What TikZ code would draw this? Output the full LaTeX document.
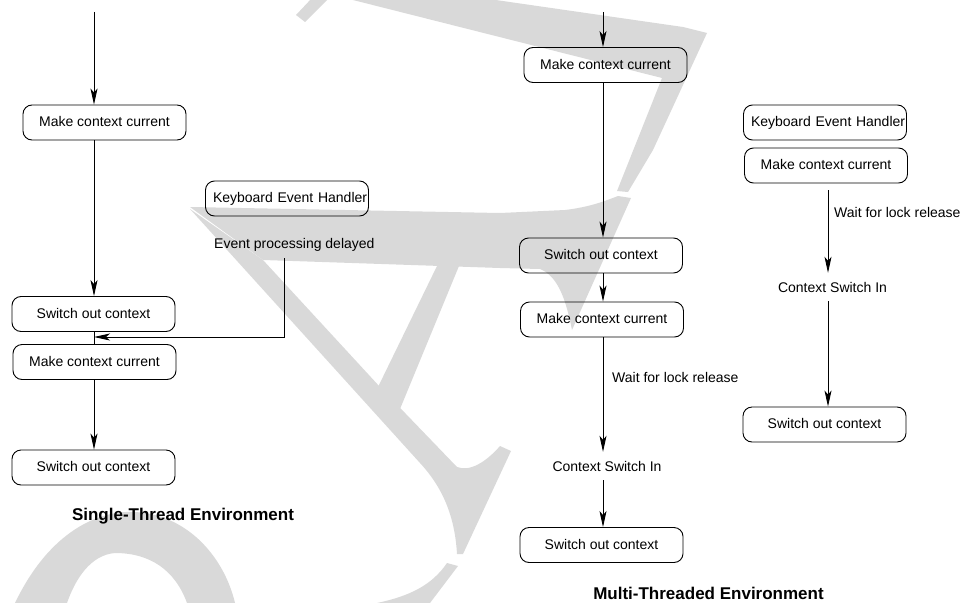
\documentclass[tikz,border=0pt]{standalone}
\usepackage{fontspec}
\setmainfont{Liberation Sans}
\usetikzlibrary{arrows.meta}
\definecolor{wm}{RGB}{217,217,217}
\tikzset{
  box/.style={draw, line width=0.9pt, rounded corners=9pt, minimum width=163pt, minimum height=35pt,
    inner sep=0pt, font=\fontsize{14}{16}\selectfont, text height=10pt, text depth=2pt},
  keh/.style={box, inner xsep=7.5pt, text width=148pt, align=left},
  lbl/.style={inner xsep=2pt, inner ysep=9pt, font=\fontsize{14}{16}\selectfont, text height=10pt, text depth=0pt},
  txt/.style={inner sep=0pt, font=\fontsize{14}{16}\selectfont},
  ttl/.style={inner sep=0pt, font=\bfseries\fontsize{17}{20}\selectfont},
  arr/.style={line width=0.9pt, -{Stealth[length=16pt,width=7pt,inset=4pt]}},
  ln/.style={line width=0.9pt},
}
\begin{document}
\begin{tikzpicture}[x=1pt,y=-1pt]
\useasboundingbox (0,0) rectangle (965,602);
% watermark
\fill[wm] (312,-2) -- (329,-2) -- (305,22) -- (296,15) -- cycle;
\fill[wm] (345,-2) -- (482,-2) -- (683,27) -- (707,33) -- (653,150) -- (628,192) -- (617,191) -- (662,78) -- cycle;
\fill[wm] (190,207) -- (500,213) -- (565,210) .. controls (590,207) and (605,201) .. (618,196) -- (631,198) -- (572,330) .. controls (566,300) and (558,276) .. (540,269) -- (500,268) -- (263,260) -- cycle;
\fill[wm] (190,209) -- (263,260) -- (380,387) -- (457,467) .. controls (470,472) and (486,462) .. (500,446) -- (511,451) -- (463,554) -- (457,554) .. controls (455,520) and (445,490) .. (420,463) -- cycle;
\fill[wm] (437,266) -- (459,266) -- (400,409) -- (378,387) -- cycle;
\fill[wm] (447,563) -- (458,566) -- (430,603) -- (377,603) .. controls (410,596) and (432,585) .. (447,563) -- cycle;
\fill[wm] (15,603) .. controls (50,530) and (100,510) .. (135,512) .. controls (190,515) and (225,560) .. (235,603) -- (187,603) .. controls (175,570) and (150,553) .. (115,553) .. controls (90,555) and (75,580) .. (67,603) -- cycle;

% ---- Single-thread environment
\coordinate (cL0) at (94,12);
\node[box] (L1) at (104.5,122.5) {Make context current};
\node[box] (L2) at (93.5,314) {Switch out context};
\node[box] (L3) at (94.5,362) {Make context current};
\node[box] (L4) at (93.5,467.5) {Switch out context};
\node[keh] (K1) at (287,198.5) {\mbox{Keyboard Event Handler}};
\node[txt, anchor=base west] (EP) at (214,248) {Event processing delayed};
\coordinate (e1) at (284,258);
\coordinate (ej) at (94,337);
\node[ttl, anchor=base] (ST) at (183,520.5) {Single-Thread Environment};

\draw[arr] (cL0) -- (cL0 |- L1.north);
\draw[arr] (L1.south -| cL0) -- (L2.north -| cL0);
\draw[ln] (L2.south -| cL0) -- (L3.north -| cL0);
\draw[arr] (e1) |- (ej);
\draw[arr] (L3.south -| cL0) -- (L4.north -| cL0);

% ---- Multi-threaded environment, main thread
\coordinate (cM0) at (603,12);
\node[box] (M1) at (605.5,65) {Make context current};
\node[box] (M2) at (601,255.5) {Switch out context};
\node[box] (M3) at (602,319.5) {Make context current};
\node[txt, anchor=base west] (MW) at (612,382) {Wait for lock release};
\node[lbl] (MC) at (607,466) {Context Switch In};
\node[box] (M4) at (601.5,545) {Switch out context};
\node[ttl, anchor=base] (MT) at (708.5,599) {Multi-Threaded Environment};

\draw[arr] (cM0) -- (cM0 |- M1.north);
\draw[arr] (M1.south -| cM0) -- (M2.north -| cM0);
\draw[arr] (M2.south -| cM0) -- (M3.north -| cM0);
\draw[arr] (M3.south -| cM0) -- (MC.north -| cM0);
\draw[arr] (MC.south -| cM0) -- (M4.north -| cM0);

% ---- Multi-threaded environment, keyboard thread
\node[keh] (R1) at (825,122.5) {\mbox{Keyboard Event Handler}};
\node[box] (R2) at (826,165.5) {Make context current};
\coordinate (cR1) at (828,190);
\node[txt, anchor=base west] (RW) at (834,217.5) {Wait for lock release};
\node[lbl] (RC) at (832.5,287) {Context Switch In};
\node[box] (R3) at (824.5,424.5) {Switch out context};

\draw[arr] (cR1) -- (cR1 |- RC.north);
\draw[arr] (RC.south -| cR1) -- (R3.north -| cR1);
\end{tikzpicture}
\end{document}
